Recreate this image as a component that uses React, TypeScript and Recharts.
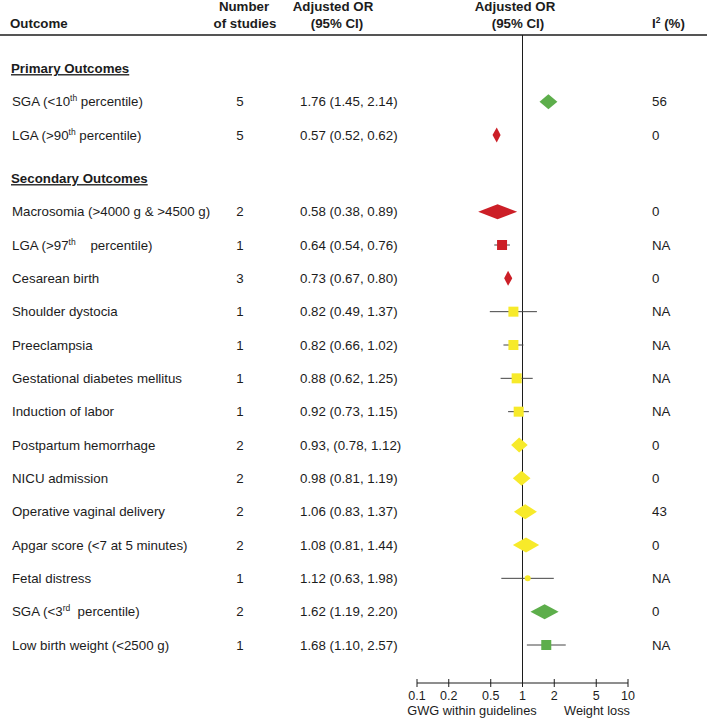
import { ScatterChart, Scatter, XAxis, YAxis, ReferenceLine } from 'recharts';

// ---- data ----
const SECTIONS = ['Primary Outcomes', 'Secondary Outcomes'];
const PRIMARY = ['SGA (<10^th^ percentile)', 'LGA (>90^th^ percentile)'];
const SECONDARY = [
  'Macrosomia (>4000 g & >4500 g)',
  'LGA (>97^th^\u00a0\u00a0\u00a0 percentile)',
  'Cesarean birth',
  'Shoulder dystocia',
  'Preeclampsia',
  'Gestational diabetes mellitus',
  'Induction of labor',
  'Postpartum hemorrhage',
  'NICU admission',
  'Operative vaginal delivery',
  'Apgar score (<7 at 5 minutes)',
  'Fetal distress',
  'SGA (<3^rd^\u00a0 percentile)',
  'Low birth weight (<2500 g)',
];
const STUDIES = [5, 5, 2, 1, 3, 1, 1, 1, 1, 2, 2, 2, 2, 1, 2, 1];
const ODDS = [1.76, 0.57, 0.58, 0.64, 0.73, 0.82, 0.82, 0.88, 0.92, 0.93, 0.98, 1.06, 1.08, 1.12, 1.62, 1.68];
const LOWER = [1.45, 0.52, 0.38, 0.54, 0.67, 0.49, 0.66, 0.62, 0.73, 0.78, 0.81, 0.83, 0.81, 0.63, 1.19, 1.1];
const UPPER = [2.14, 0.62, 0.89, 0.76, 0.8, 1.37, 1.02, 1.25, 1.15, 1.12, 1.19, 1.37, 1.44, 1.98, 2.2, 2.57];
const OR_LABELS = [
  '1.76 (1.45, 2.14)', '0.57 (0.52, 0.62)', '0.58 (0.38, 0.89)', '0.64 (0.54, 0.76)',
  '0.73 (0.67, 0.80)', '0.82 (0.49, 1.37)', '0.82 (0.66, 1.02)', '0.88 (0.62, 1.25)',
  '0.92 (0.73, 1.15)', '0.93, (0.78, 1.12)', '0.98 (0.81, 1.19)', '1.06 (0.83, 1.37)',
  '1.08 (0.81, 1.44)', '1.12 (0.63, 1.98)', '1.62 (1.19, 2.20)', '1.68 (1.10, 2.57)',
];
const I2 = ['56', '0', '0', 'NA', '0', 'NA', 'NA', 'NA', 'NA', '0', '0', '43', '0', 'NA', '0', 'NA'];
const X_TICKS = [0.1, 0.2, 0.5, 1, 2, 5, 10];

// ---- layout ----
const W = 707;
const H = 718;
const PLOT_LEFT = 417;
const PLOT_RIGHT = 628;
const TOP = 35;
const X_MIN = 0.1;
const X_MAX = 10;
const PX_PER_DECADE = (PLOT_RIGHT - PLOT_LEFT) / Math.log10(X_MAX / X_MIN);
const FONT = '"Liberation Sans", Arial, sans-serif';
const FS = 13.3;
const INK = '#1c1c1c';
const RED = '#cc1f27';
const GREEN = '#5dae4b';
const YELLOW = '#f7ea2a';
const BOX_OVERRIDE: Record<string, number> = { 'Fetal distress': 6 };

type Row =
  | { kind: 'header'; text: string; slot: number }
  | { kind: 'item'; name: string; slot: number; studies: number; or: number; lo: number; hi: number; label: string; i2: string };

const ROWS: Row[] = [];
{
  let idx = 0;
  let k = 0;
  [PRIMARY, SECONDARY].forEach((names, s) => {
    ROWS.push({ kind: 'header', text: SECTIONS[s], slot: idx + 0.3 * s });
    idx++;
    names.forEach((name) => {
      ROWS.push({
        kind: 'item', name, slot: idx + 0.3 * s, studies: STUDIES[k], or: ODDS[k],
        lo: LOWER[k], hi: UPPER[k], label: OR_LABELS[k], i2: I2[k],
      });
      idx++;
      k++;
    });
  });
}
const ITEMS = ROWS.filter((r) => r.kind === 'item');
const SLOTS = ROWS.map((r) => r.slot);

const withSup = (s: string) =>
  s.split('^').map((part, i) =>
    i % 2 === 1 ? (
      <tspan key={i} dy={-5} fontSize={8.5}>{part}</tspan>
    ) : (
      <tspan key={i} dy={i > 0 ? 5 : 0}>{part}</tspan>
    ),
  );

// eslint-disable-next-line @typescript-eslint/no-explicit-any
const RowTick = ({ y, payload }: any) => {
  const row = ROWS.find((r) => Math.abs(r.slot - payload.value) < 1e-6);
  if (!row) return null;
  const base = y + 4.8;
  if (row.kind === 'header') {
    return (
      <text x={11} y={base} fontFamily={FONT} fontSize={FS} fontWeight="bold" fill={INK} textDecoration="underline">
        {row.text}
      </text>
    );
  }
  return (
    <g fontFamily={FONT} fontSize={FS} fill={INK}>
      <text x={12} y={base} style={{ whiteSpace: 'pre' }}>{withSup(row.name)}</text>
      <text x={240} y={base} textAnchor="middle">{row.studies}</text>
      <text x={300} y={base}>{row.label}</text>
      <text x={652} y={base}>{row.i2}</text>
    </g>
  );
};

// eslint-disable-next-line @typescript-eslint/no-explicit-any
const AxisTick = ({ x, y, payload }: any) => (
  <g>
    <line x1={x} x2={x} y1={y - 4} y2={y + 4} stroke={INK} strokeWidth={1} />
    <text x={x} y={y + 16.5} textAnchor="middle" fontFamily={FONT} fontSize={12.5} fill={INK}>
      {payload.value}
    </text>
  </g>
);

// eslint-disable-next-line @typescript-eslint/no-explicit-any
const Marker = ({ cx, cy, payload }: any) => {
  const toPx = (v: number) => cx + PX_PER_DECADE * Math.log10(v / payload.or);
  const lo = toPx(payload.lo);
  const hi = toPx(payload.hi);
  const color = payload.hi < 1 ? RED : payload.lo > 1 ? GREEN : YELLOW;
  if (payload.studies > 1) {
    const h = 7.5;
    return <polygon points={`${lo},${cy} ${cx},${cy - h} ${hi},${cy} ${cx},${cy + h}`} fill={color} />;
  }
  const box = BOX_OVERRIDE[payload.name];
  return (
    <g>
      <line x1={lo} x2={hi} y1={cy} y2={cy} stroke="#444" strokeWidth={1} />
      {box ? (
        <circle cx={cx} cy={cy} r={box / 2} fill={color} />
      ) : (
        <rect x={cx - 5} y={cy - 5} width={10} height={10} fill={color} />
      )}
    </g>
  );
};

export default function App() {
  const txt = { fontFamily: FONT, fontSize: FS, fontWeight: 'bold' as const, fill: INK };
  return (
    <div style={{ position: 'absolute', left: 0, top: 0, width: W, height: H, background: '#fff' }}>
      <ScatterChart width={W} height={H} margin={{ top: TOP, right: W - PLOT_RIGHT, bottom: 0, left: 0 }}>
        <XAxis
          type="number"
          dataKey="or"
          scale="log"
          domain={[X_MIN, X_MAX]}
          allowDataOverflow
          ticks={X_TICKS}
          interval={0}
          height={H - 683}
          tickSize={0}
          tickMargin={0}
          tickLine={false}
          axisLine={{ stroke: INK, strokeWidth: 1 }}
          tick={AxisTick}
        />
        <YAxis
          yAxisId="l"
          type="number"
          dataKey="slot"
          domain={[-1, 18.44]}
          reversed
          allowDataOverflow
          ticks={SLOTS}
          interval={0}
          width={PLOT_LEFT}
          axisLine={false}
          tickLine={false}
          tick={RowTick}
        />
        <ReferenceLine yAxisId="l" x={1} stroke={INK} strokeWidth={1} />
        <Scatter yAxisId="l" data={ITEMS} shape={Marker} isAnimationActive={false} />
      </ScatterChart>
      <svg width={W} height={H} style={{ position: 'absolute', left: 0, top: 0, pointerEvents: 'none' }}>
        <line x1={0} x2={W} y1={TOP} y2={TOP} stroke={INK} strokeWidth={1.3} />
        <text x={10} y={28} {...txt}>Outcome</text>
        <text x={244} y={11} textAnchor="middle" {...txt}>Number</text>
        <text x={245} y={28} textAnchor="middle" {...txt}>of studies</text>
        <text x={333} y={11} textAnchor="middle" {...txt}>Adjusted OR</text>
        <text x={337} y={28} textAnchor="middle" {...txt}>(95% CI)</text>
        <text x={515} y={11} textAnchor="middle" {...txt}>Adjusted OR</text>
        <text x={518} y={28} textAnchor="middle" {...txt}>(95% CI)</text>
        <text x={652} y={28} {...txt}>
          I<tspan dy={-5} fontSize={8.5}>2</tspan>
          <tspan dy={5}> (%)</tspan>
        </text>
        <text x={472} y={715} textAnchor="middle" fontFamily={FONT} fontSize={12.8} fill={INK}>GWG within guidelines</text>
        <text x={597} y={715} textAnchor="middle" fontFamily={FONT} fontSize={12.8} fill={INK}>Weight loss</text>
      </svg>
    </div>
  );
}
